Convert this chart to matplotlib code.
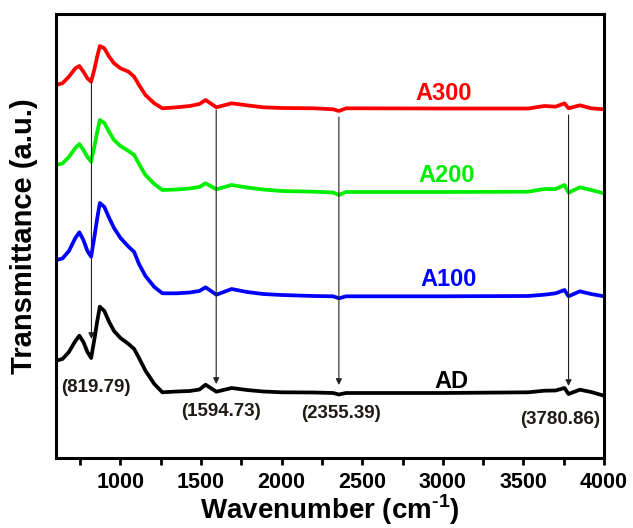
import matplotlib
matplotlib.use("Agg")
import matplotlib.pyplot as plt
from matplotlib.ticker import MultipleLocator

plt.rcParams['font.family'] = ['Liberation Sans', 'DejaVu Sans']
plt.rcParams['font.weight'] = 'bold'
plt.rcParams['mathtext.fontset'] = 'custom'
plt.rcParams['mathtext.rm'] = 'Liberation Sans:bold'
plt.rcParams['mathtext.bf'] = 'Liberation Sans:bold'

wavenumber = [600, 640, 680, 720, 745, 770, 795, 818, 840, 855, 872, 900, 930, 960, 1000,
              1050, 1085, 1115, 1155, 1210, 1260, 1350, 1430, 1490, 1528, 1595, 1690,
              1785, 1885, 2000, 2200, 2320, 2355, 2400, 3000, 3530, 3630, 3700, 3755,
              3780, 3850, 3920, 4000]

a300 = [373, 374.7, 381.3, 389.7, 392, 386.3, 379.7, 376.3, 390, 401, 412, 409.7, 401.3, 394.7,
        389.7, 386.3, 381.3, 373, 363, 354.7, 349.7, 350.7, 352, 354, 358, 350.7, 354.7,
        352.7, 350.7, 350, 349.7, 348.7, 347, 349.7, 349.5, 349.5, 352, 351.3, 354.7,
        349.7, 352.7, 349.7, 348.7]
a200 = [293, 294.5, 301, 310, 314, 308, 301, 296.3, 313, 325.5, 338, 335, 326, 318, 312, 307, 303,
        294, 283, 274, 268, 268.5, 269.5, 271, 274.7, 268.7, 273, 270.5, 268.5, 267, 266.3,
        265.5, 263, 266, 266, 266.3, 269, 269, 273, 265.3, 270.7, 268, 264.7]
a100 = [198, 199.5, 207, 220, 225.7, 218, 207, 201.3, 223, 239, 255, 251, 240, 230, 220, 211.3,
        206, 194, 182, 171, 164.7, 164.7, 165.5, 167, 170.7, 163.3, 169, 166, 164, 163, 162,
        161.7, 159.7, 161.7, 161.7, 162, 163.3, 164.7, 168, 161.7, 166.7, 164, 161.7]
ad = [97.3, 99, 106, 117, 122.3, 116, 106, 100, 120.5, 136, 151.3, 147, 136, 127, 120, 114, 109,
      100, 87.3, 74, 65.7, 66.5, 67, 68.5, 73.3, 66.3, 70, 68, 66.5, 65.7, 65.5, 65, 63.5,
      65, 65, 65.7, 67.3, 67.5, 70, 64, 68.3, 66, 62.3]

series_names = ['A300', 'A200', 'A100', 'AD']
series_colors = ['#ff0000', '#00ee00', '#0000ff', '#000000']
series_values = [a300, a200, a100, ad]
label_pos = [(3003, 365), (3022, 283), (3034, 179), (3053, 77)]

peak_wn = [820, 1594, 2355, 3780]
peak_labels = ['(819.79)', '(1594.73)', '(2355.39)', '(3780.86)']
arrow_top = [376, 348, 341, 343]
arrow_tip = [119, 74, 73, 72]
peak_text_pos = [(850, 71), (1622, 46), (2370, 45), (3728, 39)]

fig = plt.figure(figsize=(6.33, 5.28), dpi=100)
ax = fig.add_axes([56/633, 70/528, (604-56)/633, (458-14)/528])

for name, col, vals in zip(series_names, series_colors, series_values):
    ax.plot(wavenumber, vals, color=col, lw=2.7, solid_joinstyle='round', solid_capstyle='round')

for (x, y), name, col in zip(label_pos, series_names, series_colors):
    ax.text(x, y, name, color=col, fontsize=17, fontweight='bold', ha='center', va='center')

for wn, top, tip in zip(peak_wn, arrow_top, arrow_tip):
    ax.annotate('', xy=(wn, tip), xytext=(wn, top),
                arrowprops=dict(arrowstyle='-|>', color='#222222', lw=0.8,
                                mutation_scale=9, shrinkA=0, shrinkB=0))

for (x, y), txt in zip(peak_text_pos, peak_labels):
    ax.text(x, y, txt, color='#1e1a14', fontsize=13.5, fontweight='bold',
            ha='center', va='center')

ax.set_xlim(600, 4000)
ax.set_ylim(0, 444)
ax.xaxis.set_major_locator(MultipleLocator(500))
ax.xaxis.set_minor_locator(MultipleLocator(250))
ax.tick_params(axis='x', which='both', direction='out', length=5, width=2, labelsize=15.5, pad=5)
ax.set_yticks([])
for lab in ax.get_xticklabels():
    lab.set_fontweight('bold')
for sp in ax.spines.values():
    sp.set_linewidth(2.2)

ax.set_xlabel(r'Wavenumber (cm$^{\text{-}1}$)', fontsize=20, fontweight='bold', labelpad=0)
ax.set_ylabel('Transmittance (a.u.)', fontsize=21, fontweight='bold', labelpad=13)

fig.savefig('out.png', dpi=100)
